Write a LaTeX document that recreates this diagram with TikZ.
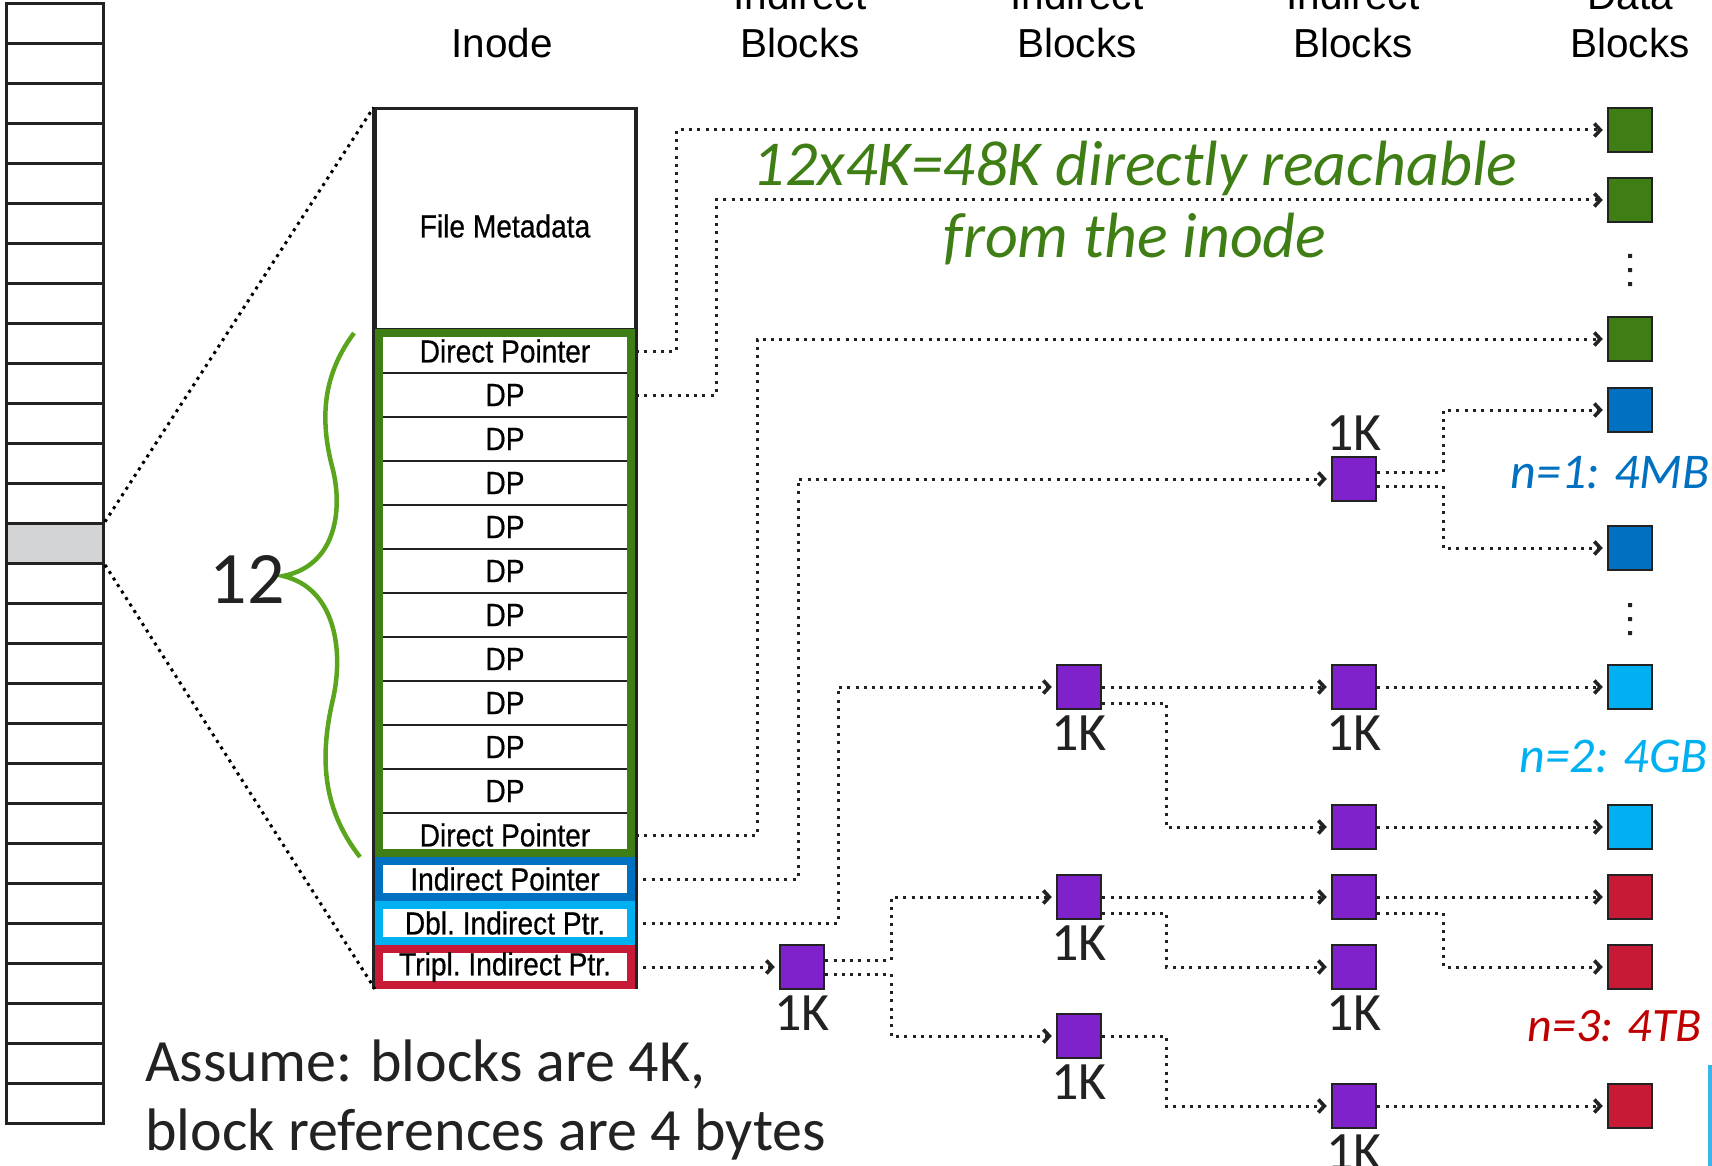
\documentclass[tikz,border=0pt]{standalone}
\usepackage{fontspec}
\setmainfont{Carlito}
\newfontfamily\hdrfont{Liberation Sans}
\newfontfamily\condfont[FakeStretch=0.88,FakeBold=0.5]{Liberation Sans}
\usetikzlibrary{arrows.meta,positioning}
\definecolor{ink}{HTML}{222222}
\definecolor{dgreen}{HTML}{3F7E14}
\definecolor{bgreen}{HTML}{5BA41E}
\definecolor{dblue}{HTML}{0070C0}
\definecolor{lblue}{HTML}{00B0F0}
\definecolor{dred}{HTML}{C71A36}
\definecolor{tred}{HTML}{C00000}
\definecolor{purp}{HTML}{7F22CC}
\definecolor{diskgray}{HTML}{D3D4D6}
\definecolor{barblue}{HTML}{3AB5EA}
\tikzset{
  diskcell/.style={draw=ink, line width=3pt, minimum width=97pt, minimum height=40pt, inner sep=0pt},
  hdr/.style={font=\hdrfont\fontsize{40.5}{48}\selectfont, text=black, inner sep=0pt},
  rowfont/.style={font=\condfont\fontsize{32}{37}\selectfont},
  row/.style={draw=ink, line width=2pt, minimum width=260pt, minimum height=44pt, inner sep=0pt, rowfont},
  prow/.style={line width=8pt, fill=white, minimum width=252pt, minimum height=36pt, inner sep=0pt, rowfont},
  blk/.style={draw=ink, line width=2.5pt, minimum size=44pt, inner sep=0pt},
  klab/.style={font=\fontsize{54}{60}\selectfont, text=ink, inner sep=0pt},
  ptr/.style={ink, line width=3pt, dash pattern=on 3pt off 5.3pt, line cap=butt,
    -{Straight Barb[length=6pt,width=13pt,line width=3.6pt]}, shorten >=4pt},
  zoomln/.style={black, line width=3pt, dash pattern=on 3pt off 4.7pt, line cap=butt},
  nlab/.style={font=\fontsize{50}{60}\selectfont\itshape, inner sep=0pt, anchor=base east}
}
\begin{document}
\begin{tikzpicture}[x=1pt,y=-1pt]
\useasboundingbox (0,0) rectangle (1712,1166);
% disk column
\foreach \i in {0,...,12,14,15,...,27} \node[diskcell] (disk\i) at (55,23.3+40*\i) {};
\node[diskcell, fill=diskgray] (disk13) at (55,23.3+40*13) {};
% headers
\node[hdr, anchor=base] (h0) at (502,58) {Inode};
\node[hdr, align=center, anchor=base] (h1) at (800,58) {Indirect\\Blocks};
\node[hdr, align=center, anchor=base] (h2) at (1077,58) {Indirect\\Blocks};
\node[hdr, align=center, anchor=base] (h3) at (1353,58) {Indirect\\Blocks};
\node[hdr, align=center, anchor=base] (h4) at (1630,58) {Data\\Blocks};
% inode
\node[row, line width=3pt, minimum height=220pt, label={[rowfont, inner sep=0pt, yshift=-7pt]center:File Metadata}] (meta) at (505,219) {};
\foreach \i/\t in {1/Direct Pointer,2/DP,3/DP,4/DP,5/DP,6/DP,7/DP,8/DP,9/DP,10/DP,11/DP,12/Direct Pointer}
  \node[row] (dp\i) at (505,307+44*\i) {\t};
\node[prow, draw=dblue] (ip) at (505,879) {Indirect Pointer};
\node[prow, draw=lblue] (dip) at (505,923) {Dbl.\ Indirect Ptr.};
\node[prow, draw=dred] (tp) at (505,967) {Tripl.\ Indirect Ptr.};
\draw[ink, line width=2.5pt] (meta.north west) -- (meta.west |- tp.south) (meta.north east) -- (meta.east |- tp.south);
\draw[dgreen, line width=8pt] (379,333) rectangle (631,853);
\node[prow, draw=dblue] at (505,879) {Indirect Pointer};
\node[prow, draw=lblue] at (505,923) {Dbl.\ Indirect Ptr.};
\node[prow, draw=dred] at (505,967) {Tripl.\ Indirect Ptr.};
% zoom lines
\draw[zoomln] (disk13.north east) -- (meta.north west);
\draw[zoomln] (disk13.south east) -- (tp.south west);
% brace
\draw[bgreen, line width=4.5pt] (354,333) .. controls (325,372) and (318,415) .. (333,470)
  .. controls (343,512) and (335,566) .. (283,576)
  .. controls (335,588) and (344,650) .. (333,699)
  .. controls (318,763) and (325,812) .. (360,857);
\node[font=\fontsize{74}{80}\selectfont, text=ink, inner sep=0pt, anchor=base east] (twelve) at (285,603) {12};
% data blocks
\node[blk, fill=dgreen] (d1) at (1630,130) {};
\node[blk, fill=dgreen] (d2) at (1630,200) {};
\node[blk, fill=dgreen] (d3) at (1630,339) {};
\node[blk, fill=dblue] (d4) at (1630,410) {};
\node[blk, fill=dblue] (d5) at (1630,548) {};
\node[blk, fill=lblue] (d6) at (1630,687) {};
\node[blk, fill=lblue] (d7) at (1630,827) {};
\node[blk, fill=dred] (d8) at (1630,897) {};
\node[blk, fill=dred] (d9) at (1630,967) {};
\node[blk, fill=dred] (d10) at (1630,1106) {};
\fill[ink] (1628,254) rectangle (1632,258) (1628,268) rectangle (1632,272) (1628,282) rectangle (1632,286);
\fill[ink] (1628,603) rectangle (1632,607) (1628,617) rectangle (1632,621) (1628,631) rectangle (1632,635);
% indirect blocks
\node[blk, fill=purp] (p1) at (802,967) {};
\node[blk, fill=purp] (p2a) at (1079,687) {};
\node[blk, fill=purp] (p2b) at (1079,897) {};
\node[blk, fill=purp] (p2c) at (1079,1036) {};
\node[blk, fill=purp] (p3a) at (1354,479) {};
\node[blk, fill=purp] (p3b) at (1354,687) {};
\node[blk, fill=purp] (p3c) at (1354,827) {};
\node[blk, fill=purp] (p3d) at (1354,897) {};
\node[blk, fill=purp] (p3e) at (1354,967) {};
\node[blk, fill=purp] (p3f) at (1354,1106) {};
\node[klab, below=5pt of p1] (k1) {1K};
\node[klab, below=5pt of p2a] (k2) {1K};
\node[klab, below=5pt of p2b] (k3) {1K};
\node[klab, below=5pt of p2c] (k4) {1K};
\node[klab, above=5pt of p3a] (k5) {1K};
\node[klab, below=5pt of p3b] (k6) {1K};
\node[klab, below=5pt of p3e] (k7) {1K};
\node[klab, below=5pt of p3f] (k8) {1K};
% pointers
\draw[ptr] (dp1.east) -- ++(40,0) |- (d1.west);
\draw[ptr] (dp2.east) -- ++(80,0) |- (d2.west);
\draw[ptr] (dp12.east) -- ++(121,0) |- (d3.west);
\draw[ptr] (ip.east) -- ++(163,0) |- (p3a.west);
\draw[ptr] (dip.east) -- ++(203,0) |- (p2a.west);
\draw[ptr] (tp.east) -- (p1.west);
\draw[ptr] ([yshift=7pt]p3a.east) -- ++(66,0) |- (d4.west);
\draw[ptr] ([yshift=-7pt]p3a.east) -- ++(66,0) |- (d5.west);
\draw[ptr] (p2a.east) -- (p3b.west);
\draw[ptr] (p3b.east) -- (d6.west);
\draw[ptr] ([yshift=-16pt]p2a.east) -- ++(64,0) |- (p3c.west);
\draw[ptr] (p3c.east) -- (d7.west);
\draw[ptr] ([yshift=7pt]p1.east) -- ++(66,0) |- (p2b.west);
\draw[ptr] ([yshift=-7pt]p1.east) -- ++(66,0) |- (p2c.west);
\draw[ptr] (p2b.east) -- (p3d.west);
\draw[ptr] ([yshift=-16pt]p2b.east) -- ++(64,0) |- (p3e.west);
\draw[ptr] (p3d.east) -- (d8.west);
\draw[ptr] ([yshift=-16pt]p3d.east) -- ++(66,0) |- (d9.west);
\draw[ptr] (p2c.east) -- ++(64,0) |- (p3f.west);
\draw[ptr] (p3f.east) -- (d10.west);
% texts
\node[font=\fontsize{64}{72}\selectfont\itshape, text=dgreen, align=center, anchor=base, inner sep=0pt] (note) at (1135,258) {12x4K=48K directly reachable\\from the inode};
\node[nlab, text=dblue] (n1) at (1710,488) {n=1:\hspace{14.5pt}4MB};
\node[nlab, text=lblue] (n2) at (1708,772) {n=2: 4GB};
\node[nlab, text=tred, font=\fontsize{48}{58}\selectfont\itshape] (n3) at (1702,1041) {n=3: 4TB};
\node[font=\fontsize{60}{69}\selectfont, text=ink, align=left, anchor=base west, inner sep=0pt] (assume) at (145,1150) {Assume: blocks are 4K,\\block references are 4 bytes};
\fill[barblue] (1708,1065) rectangle (1712,1166);
\end{tikzpicture}
\end{document}
